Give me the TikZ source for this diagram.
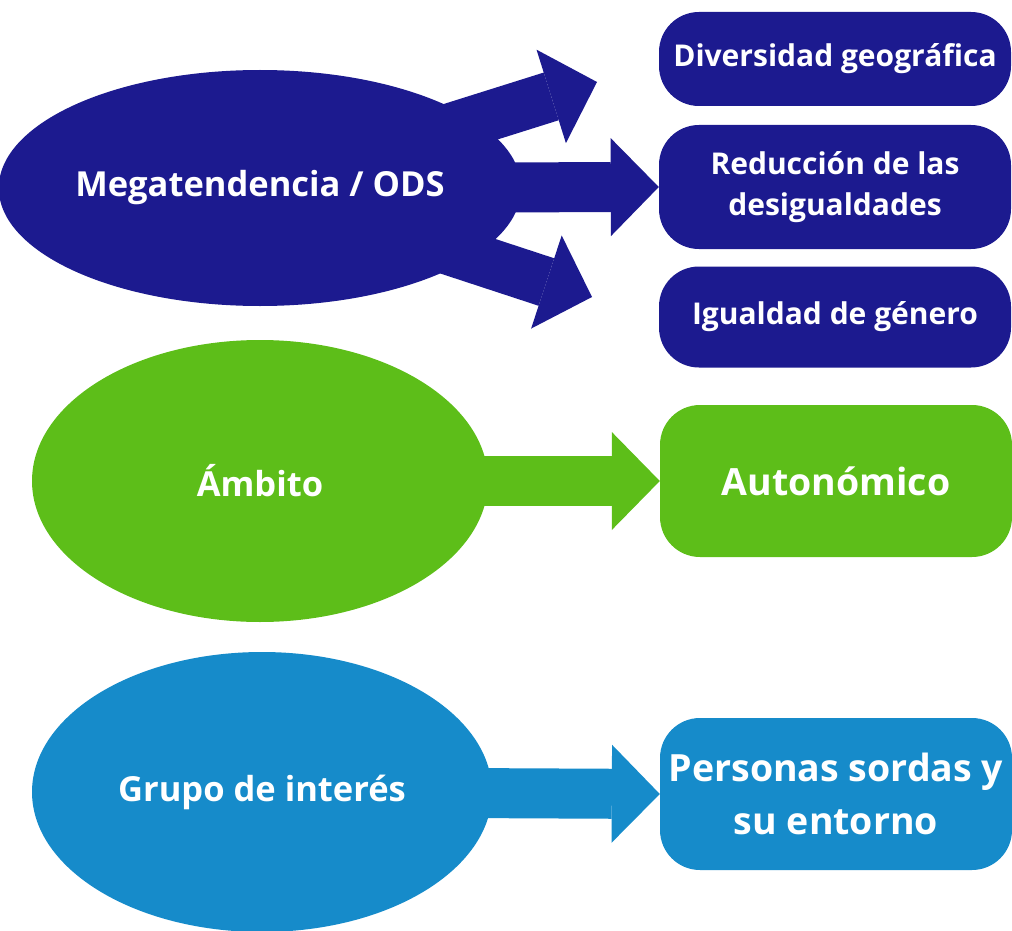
\documentclass[tikz,border=0pt]{standalone}
\usepackage{fontspec}
\setmainfont{Open Sans}
\usetikzlibrary{shapes.geometric,arrows.meta,backgrounds}

\begin{document}
\begin{tikzpicture}
			[x=1pt,y=-1pt,
			%Styles
			big oval/.style={ellipse,fill=#1,text=white,inner sep=0pt,font=\fontsize{34.5}{40}\selectfont\bfseries},
			result box/.style={rounded corners=40pt,fill=#1,text=white,inner sep=0pt,minimum width=352pt,align=center},
			small text/.style={font=\fontsize{30}{41}\selectfont\bfseries},
			large text/.style={font=\fontsize{37.5}{53}\selectfont\bfseries},
			block arrow/.style={#1,line width=50pt,-{Triangle[length=48pt,width=98pt,line width=0pt]}}
			]
			
			%Colors
			\definecolor{odscolor}{HTML}{1C1A8F}
			\definecolor{ambitocolor}{HTML}{5DBE19}
			\definecolor{grupocolor}{HTML}{168BCA}
			
			\useasboundingbox (0,0) rectangle (1012,931);
			
			%The graphic
			\node[big oval=odscolor,minimum width=500pt,minimum height=236pt] (mega) at (260,188) {Megatendencia / ODS};
			\node[big oval=ambitocolor,minimum width=456pt,minimum height=282pt] (ambito) at (260,481) {Ámbito};
			\node[big oval=grupocolor,minimum width=460pt,minimum height=280pt] (grupo) at (262,792) {Grupo de interés};
			
			\node[result box=odscolor,small text,minimum height=94pt] (diversidad) at (835,59) {Diversidad geográfica};
			\node[result box=odscolor,small text,minimum height=124pt] (reduccion) at (835,187) {Reducción de las\\desigualdades};
			\node[result box=odscolor,small text,minimum height=101pt] (igualdad) at (835,317) {Igualdad de género};
			\node[result box=ambitocolor,large text,minimum height=152pt] (autonomico) at (836,481) {Autonómico};
			\node[result box=grupocolor,large text,minimum height=152pt] (personas) at (836,794) {Personas sordas y\\su entorno};
			
			\coordinate (tip up) at (597,82);
			\coordinate (tip down) at (592,297);
			
			\begin{scope}[on background layer]
				\draw[block arrow=odscolor] (mega.center) -- (tip up);
				\draw[block arrow=odscolor] (mega.center) -- (tip down);
				\draw[block arrow=odscolor] (mega.center) -- (reduccion.west);
				\draw[block arrow=ambitocolor] (ambito.center) -- (autonomico.west);
				\draw[block arrow=grupocolor] (grupo.center) -- (personas.west);
			\end{scope}
		\end{tikzpicture}
\end{document}
